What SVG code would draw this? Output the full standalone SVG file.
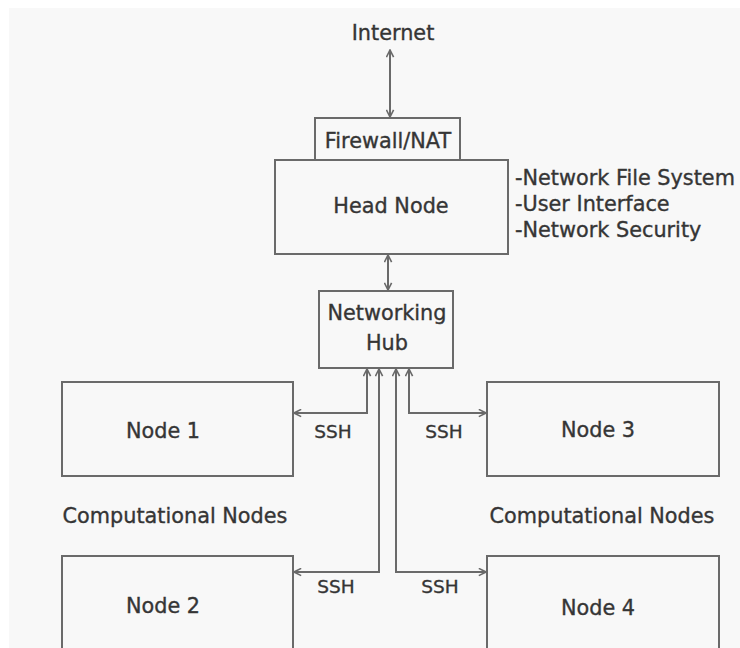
<svg xmlns="http://www.w3.org/2000/svg" width="740" height="648" viewBox="0 0 740 648">
<style>
.box{fill:none;stroke:#6a6a6a;stroke-width:2}
.t{font-family:"DejaVu Sans",Verdana,sans-serif;font-size:20.8px;fill:#353535;stroke:#353535;stroke-width:0.35}
.c{text-anchor:middle}
.s{font-size:18.5px}
.ln{fill:none;stroke:#6a6a6a;stroke-width:2}
</style>
<defs>
<marker id="ah" viewBox="0 0 10 10" refX="9" refY="5" markerWidth="9" markerHeight="9" markerUnits="userSpaceOnUse" orient="auto-start-reverse">
<path d="M1,1 L9,5 L1,9" fill="none" stroke="#6a6a6a" stroke-width="1.8"/>
</marker>
</defs>
<rect x="0" y="0" width="740" height="648" fill="#ffffff"/>
<rect x="9" y="8" width="731" height="640" fill="#f8f8f8"/>
<g id="internet"><text class="t c" x="393" y="40">Internet</text></g>
<g id="firewall"><rect class="box" x="315" y="118" width="145" height="42"/><text class="t c" x="388" y="148">Firewall/NAT</text></g>
<g id="headnode"><rect class="box" x="275" y="160" width="233" height="94"/><text class="t c" x="391" y="213">Head Node</text></g>
<g id="services"><text class="t" x="515" y="185">-Network File System</text><text class="t" x="515" y="211">-User Interface</text><text class="t" x="515" y="237">-Network Security</text></g>
<g id="hub"><rect class="box" x="319" y="291" width="134" height="77"/><text class="t c" x="387" y="320">Networking</text><text class="t c" x="387" y="350">Hub</text></g>
<g id="node1"><rect class="box" x="62" y="382" width="231" height="94"/><text class="t c" x="163" y="438">Node 1</text></g>
<g id="node3"><rect class="box" x="487" y="382" width="232" height="94"/><text class="t c" x="598" y="437">Node 3</text></g>
<g id="node2"><rect class="box" x="62" y="556" width="231" height="100"/><text class="t c" x="163" y="613">Node 2</text></g>
<g id="node4"><rect class="box" x="487" y="556" width="232" height="100"/><text class="t c" x="598" y="615">Node 4</text></g>
<g id="label-left"><text class="t c" x="175" y="523">Computational Nodes</text></g>
<g id="label-right"><text class="t c" x="602" y="523">Computational Nodes</text></g>
<g id="connectors">
<line class="ln" x1="390" y1="50" x2="390" y2="117" marker-start="url(#ah)" marker-end="url(#ah)"/>
<line class="ln" x1="388" y1="255" x2="388" y2="290" marker-start="url(#ah)" marker-end="url(#ah)"/>
<polyline class="ln" points="367,369 367,413 294,413" marker-start="url(#ah)" marker-end="url(#ah)"/>
<polyline class="ln" points="409,369 409,413 486,413" marker-start="url(#ah)" marker-end="url(#ah)"/>
<polyline class="ln" points="379,369 379,572 294,572" marker-start="url(#ah)" marker-end="url(#ah)"/>
<polyline class="ln" points="396,369 396,572 486,572" marker-start="url(#ah)" marker-end="url(#ah)"/>
</g>
<g id="ssh-labels">
<text class="t s c" x="333" y="438">SSH</text>
<text class="t s c" x="444" y="438">SSH</text>
<text class="t s c" x="336" y="593">SSH</text>
<text class="t s c" x="440" y="593">SSH</text>
</g>
</svg>
